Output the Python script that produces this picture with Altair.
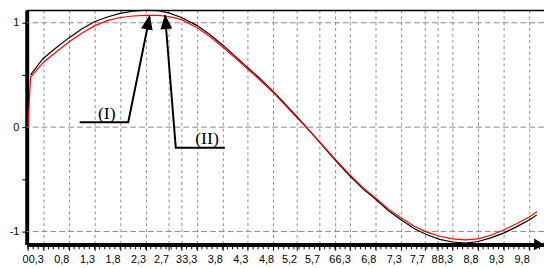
import altair as alt
import pandas as pd

# ---- data ----
black_x = [0.05, 0.3, 0.55, 0.8, 1.05, 1.3, 1.55, 1.8, 2.05, 2.3, 2.55, 2.75, 3.0, 3.3, 3.55, 3.8,
           4.05, 4.3, 4.55, 4.8, 5.05, 5.3, 5.55, 5.8, 6.05, 6.3, 6.55, 6.8, 7.05, 7.3, 7.55, 7.8,
           8.05, 8.3, 8.55, 8.8, 9.05, 9.3, 9.55, 9.8, 9.95]
black_y = [0.50, 0.66, 0.76, 0.855, 0.94, 1.01, 1.055, 1.09, 1.11, 1.12, 1.115, 1.095, 1.05, 0.975,
           0.89, 0.79, 0.68, 0.57, 0.46, 0.34, 0.21, 0.08, -0.06, -0.20, -0.34, -0.47, -0.59, -0.69,
           -0.80, -0.89, -0.97, -1.03, -1.075, -1.10, -1.11, -1.095, -1.06, -1.015, -0.955, -0.89, -0.84]
red_x = [0.0, 0.05, 0.3, 0.55, 0.8, 1.05, 1.3, 1.55, 1.8, 2.05, 2.3, 2.55, 2.75, 3.0, 3.3, 3.55, 3.8,
         4.05, 4.3, 4.55, 4.8, 5.05, 5.3, 5.55, 5.8, 6.05, 6.3, 6.55, 6.8, 7.05, 7.3, 7.55, 7.8,
         8.05, 8.3, 8.55, 8.8, 9.05, 9.3, 9.55, 9.8, 9.95]
red_y = [0.0, 0.48, 0.62, 0.72, 0.815, 0.90, 0.97, 1.02, 1.05, 1.065, 1.07, 1.07, 1.06, 1.03, 0.955,
         0.87, 0.77, 0.665, 0.555, 0.445, 0.33, 0.20, 0.07, -0.06, -0.195, -0.33, -0.46, -0.58, -0.68,
         -0.785, -0.87, -0.95, -1.005, -1.045, -1.07, -1.08, -1.07, -1.035, -0.985, -0.925, -0.86, -0.81]

tick_values = [0, 0.3, 0.8, 1.3, 1.8, 2.3, 2.75, 3, 3.3, 3.8, 4.3, 4.8, 5.25, 5.7, 6, 6.3, 6.8,
               7.3, 7.75, 8, 8.3, 8.8, 9.3, 9.8]
tick_labels = ["0", "0,3", "0,8", "1,3", "1,8", "2,3", "2,7", "3", "3,3", "3,8", "4,3", "4,8",
               "5,2", "5,7", "6", "6,3", "6,8", "7,3", "7,7", "8", "8,3", "8,8", "9,3", "9,8"]
minor_ticks = [i / 10 for i in range(0, 101)]
y_tick_values = [-1, -0.5, 0, 0.5, 1]
y_grid_values = [-1, 0, 1]

ann_group = ["I", "I", "I", "II", "II", "II"]
ann_order = [0, 1, 2, 0, 1, 2]
ann_x = [1.01, 1.96, 2.38, 3.85, 2.89, 2.68]
ann_y = [0.047, 0.047, 1.06, -0.198, -0.198, 1.07]
head_x = [2.38, 2.68]
head_y = [1.075, 1.082]
head_angle = [11, 355]
label_text = ["(I)", "(II)"]
label_x = [1.54, 3.50]
label_y = [0.127, -0.118]

# ---- layout ----
W, H = 525, 238
XDOM = [-0.025, 10.09]
YDOM = [-1.123, 1.123]

xs = alt.Scale(domain=XDOM, nice=False, zero=False)
ys = alt.Scale(domain=YDOM, nice=False, zero=False)

x_label_expr = ("[" + ",".join(f"'{l}'" for l in tick_labels) + "][indexof(["
                + ",".join(str(v) for v in tick_values) + "], datum.value)]")

x_axis = alt.Axis(values=tick_values, tickCount=100, labelExpr=x_label_expr, labelOverlap=False,
                  labelFlush=False, labelAngle=0, labelAlign="right",
                  grid=True, gridDash=[3, 3], gridColor="#8a8a8a", gridWidth=1,
                  domainColor="black", domainWidth=4, tickColor="black", tickSize=6, tickWidth=1,
                  labelFont="Liberation Sans", labelFontSize=11, labelColor="black",
                  labelPadding=3, title=None)
y_axis = alt.Axis(values=y_tick_values, tickCount=20,
                  labelExpr="datum.value % 1 == 0 ? toString(datum.value) : ''",
                  grid=False, domainColor="black", domainWidth=4, tickColor="black", tickSize=5,
                  labelFont="Liberation Sans", labelFontSize=11, labelColor="black",
                  labelPadding=3, title=None)

black_df = pd.DataFrame({"x": black_x, "y": black_y})
red_df = pd.DataFrame({"x": red_x, "y": red_y})
ann_df = pd.DataFrame({"x": ann_x, "y": ann_y, "g": ann_group, "i": ann_order})
head_df = pd.DataFrame({"x": head_x, "y": head_y, "a": head_angle})
lab_df = pd.DataFrame({"x": label_x, "y": label_y, "t": label_text})
ygrid_df = pd.DataFrame({"y": y_grid_values})
minor_df = pd.DataFrame({"x": minor_ticks})
one = pd.DataFrame({"k": [0]})

base_axes = alt.Chart(black_df).mark_line(color="black", strokeWidth=1.2, clip=False).encode(
    x=alt.X("x:Q", scale=xs, axis=x_axis),
    y=alt.Y("y:Q", scale=ys, axis=y_axis),
)

ygrid = alt.Chart(ygrid_df).mark_rule(color="#8a8a8a", strokeDash=[6, 3], strokeWidth=1).encode(
    y=alt.Y("y:Q", scale=ys),
)

red = alt.Chart(red_df).mark_line(color="#ff0000", strokeWidth=1.2, clip=False).encode(
    x=alt.X("x:Q", scale=xs), y=alt.Y("y:Q", scale=ys))

minor = alt.Chart(minor_df).mark_rule(color="black", strokeWidth=1).encode(
    x=alt.X("x:Q", scale=xs), y=alt.value(H), y2=alt.value(H + 5))

top_border = alt.Chart(one).mark_rule(color="black", strokeWidth=1.5).encode(
    x=alt.value(0), x2=alt.value(W), y=alt.value(0.5))

ann = alt.Chart(ann_df).mark_line(color="black", strokeWidth=2).encode(
    x=alt.X("x:Q", scale=xs), y=alt.Y("y:Q", scale=ys), detail="g:N", order="i:Q")

heads = alt.Chart(head_df).mark_point(shape="M0,0L0.4,1L-0.4,1Z", size=900, filled=True,
                                      color="black", opacity=1, strokeWidth=0).encode(
    x=alt.X("x:Q", scale=xs), y=alt.Y("y:Q", scale=ys), angle=alt.Angle("a:Q", scale=None))

labels = alt.Chart(lab_df).mark_text(font="Liberation Serif", fontSize=18, color="black",
                                      align="center", baseline="middle").encode(
    x=alt.X("x:Q", scale=xs), y=alt.Y("y:Q", scale=ys), text="t:N")

xarrow = alt.Chart(one).mark_point(shape="M0,0L-1,-0.6L-1,0.6Z", size=400, filled=True,
                                   color="black", opacity=1, strokeWidth=0).encode(
    x=alt.value(W), y=alt.value(H))

chart = alt.layer(ygrid, base_axes, red, minor, top_border, ann, heads, labels, xarrow).properties(
    width=W, height=H, autosize="none",
    padding={"left": 19, "top": 0, "right": 0, "bottom": 22},
    background="white",
).configure_view(stroke=None)

chart.save("out.html", embed_options={"renderer": "svg", "actions": False})
